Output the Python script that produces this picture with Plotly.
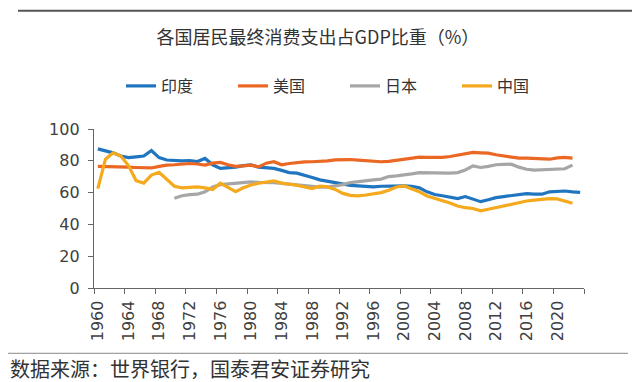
import plotly.graph_objects as go

years_india = list(range(1960, 2024))
years_other = list(range(1960, 2023))
years_japan = list(range(1970, 2023))

india = [87.5, 86.5, 85, 83, 82, 82.5, 83, 86.5, 82, 80.5,
         80, 80, 80.2, 79.5, 81.5, 77.5, 75.2, 75.5, 76, 77,
         77.5, 76, 75.5, 75.2, 74, 72.6, 72.2, 71, 69.5, 68,
         67, 66.3, 65.5, 64.5, 64.2, 64, 63.6, 64, 64.2, 64.2,
         64.2, 64, 63, 60.5, 58.8, 58, 57, 56.2, 57.5, 56,
         54.3, 55.5, 56.8, 57.5, 58.3, 58.8, 59.4, 59, 59, 60.5,
         61, 61, 60.5, 60.2]

usa = [76.5, 76.5, 76.3, 76, 76, 75.8, 75.4, 75.5, 76.5, 77.3,
       77.5, 78, 78.3, 78, 77.3, 78.5, 79, 77.5, 76.5, 76.8,
       77.3, 76.2, 78.5, 79.4, 77.5, 78.3, 79, 79.3, 79.4, 79.5,
       80, 80.6, 80.8, 80.8, 80.4, 80, 79.4, 79.4, 79.6, 80.3,
       81, 82, 82.3, 82.2, 82, 82.2, 82.7, 83.5, 84.2, 85.3,
       85, 84.8, 83.8, 83, 82.2, 81.7, 81.7, 81.5, 81, 81,
       81.8, 82.1, 81.7]

japan = [56.5, 58, 58.7, 59, 60.5, 63.5, 65, 65.5, 65.9, 66.3,
         66.7, 66.4, 66.5, 66.3, 65.8, 65.3, 65, 64.8, 64, 63.5,
         63.5, 64.2, 65, 66.3, 67, 67.8, 68, 68.5, 70.1, 70.5,
         71, 71.8, 72.6, 72.4, 72.2, 72.2, 72.2, 72.6, 74.2, 76.8,
         75.8, 76.5, 77.5, 77.7, 77.9, 76, 74.7, 74.1, 74.3, 74.7,
         74.7, 75, 77.3]

china = [62.5, 81, 85, 83, 77, 67.5, 66, 71, 72.8, 68.5,
         64, 63, 63.5, 63.6, 63, 62, 65.9, 63, 60.6, 63,
         64.8, 65.9, 66.5, 67.4, 66, 65.5, 64.6, 63.5, 62.5, 64,
         63.6, 62, 59.5, 58.3, 57.9, 58.5, 59.4, 60, 61.5, 63.5,
         64.2, 62.5, 60.5, 57.9, 56.5, 55.2, 53.5, 51.6, 50.5, 50,
         48.5, 49.5, 50.5, 51.5, 53, 54, 54.7, 55.3, 55.8, 56.2,
         56, 54.7, 53.3]

series_names = ["印度", "美国", "日本", "中国"]
colors = ["#1f75c0", "#eb6724", "#a6a6a6", "#f5a91c"]

x_tick_labels = [str(y) for y in range(1960, 2024, 4)] + [""]
x_tick_pos = [y - 0.5 for y in range(1960, 2025, 4)]
y_tick_vals = [0, 20, 40, 60, 80, 100]

title_text = "各国居民最终消费支出占GDP比重（%）"
source_text = "数据来源：世界银行，国泰君安证券研究"

# page body adds an 8px offset; figure is sized/positioned to compensate
W, H, OFF = 632, 374, 8

fig = go.Figure()
for name, xs, ys, c in zip(series_names,
                           [years_india, years_other, years_japan, years_other],
                           [india, usa, japan, china], colors):
    fig.add_trace(go.Scatter(x=xs, y=ys, name=name, mode="lines",
                             line=dict(color=c, width=3.2)))

cjk = "Noto Sans CJK SC"
fig.update_layout(
    width=W, height=H,
    margin=dict(l=94 - OFF, r=W - (584 - OFF), t=128.5 - OFF,
                b=H - (288 - OFF), autoexpand=False),
    paper_bgcolor="white", plot_bgcolor="white",
    title=dict(text=title_text, x=(318 - OFF) / W, xref="container",
               y=1 - (38 - OFF) / H, yref="container",
               xanchor="center", yanchor="middle",
               font=dict(family=cjk, size=18, color="#333333")),
    legend=dict(orientation="h", x=(345 - OFF) / W, xref="container",
                xanchor="center", y=1 - (86 - OFF) / H, yref="container",
                yanchor="middle",
                font=dict(family=cjk, size=16, color="#333333"),
                entrywidth=67, itemwidth=30, bgcolor="rgba(0,0,0,0)"),
    showlegend=True,
)
fig.update_xaxes(
    range=[1959.5, 2023.5], tickmode="array", tickvals=x_tick_pos,
    ticktext=x_tick_labels, tickangle=-90, ticklabelshift=4,
    ticks="outside", ticklen=5, tickcolor="#666666", tickwidth=1,
    showline=True, linecolor="#666666", linewidth=1.3, showgrid=False,
    zeroline=False, automargin=False,
    tickfont=dict(family="DejaVu Sans", size=16, color="#404040"),
)
fig.update_yaxes(
    range=[0, 100], tickmode="array", tickvals=y_tick_vals,
    ticks="outside", ticklen=5, tickcolor="#666666", tickwidth=1,
    showline=True, linecolor="#666666", linewidth=1.3, showgrid=False,
    zeroline=False, ticklabelstandoff=5, automargin=False,
    tickfont=dict(family="DejaVu Sans", size=16, color="#404040"),
)

# frame lines of the page excerpt (paper coords relative to the plot area)
fig.add_shape(type="line", xref="paper", yref="paper",
              x0=(18 - 94) / 490, x1=(632 - 94) / 490,
              y0=(287.5 - 9.5) / 159.5, y1=(287.5 - 9.5) / 159.5,
              line=dict(color="#555555", width=2))
fig.add_shape(type="line", xref="paper", yref="paper",
              x0=(8 - 94) / 490, x1=(628 - 94) / 490,
              y0=(287.5 - 353) / 159.5, y1=(287.5 - 353) / 159.5,
              line=dict(color="#888888", width=1))
fig.add_annotation(text=source_text, xref="paper", yref="paper",
                   x=(8 - 94) / 490, y=(287.5 - 368) / 159.5,
                   xanchor="left", yanchor="middle", showarrow=False,
                   font=dict(family=cjk, size=20, color="#333333"))

fig.write_html("out.html")
